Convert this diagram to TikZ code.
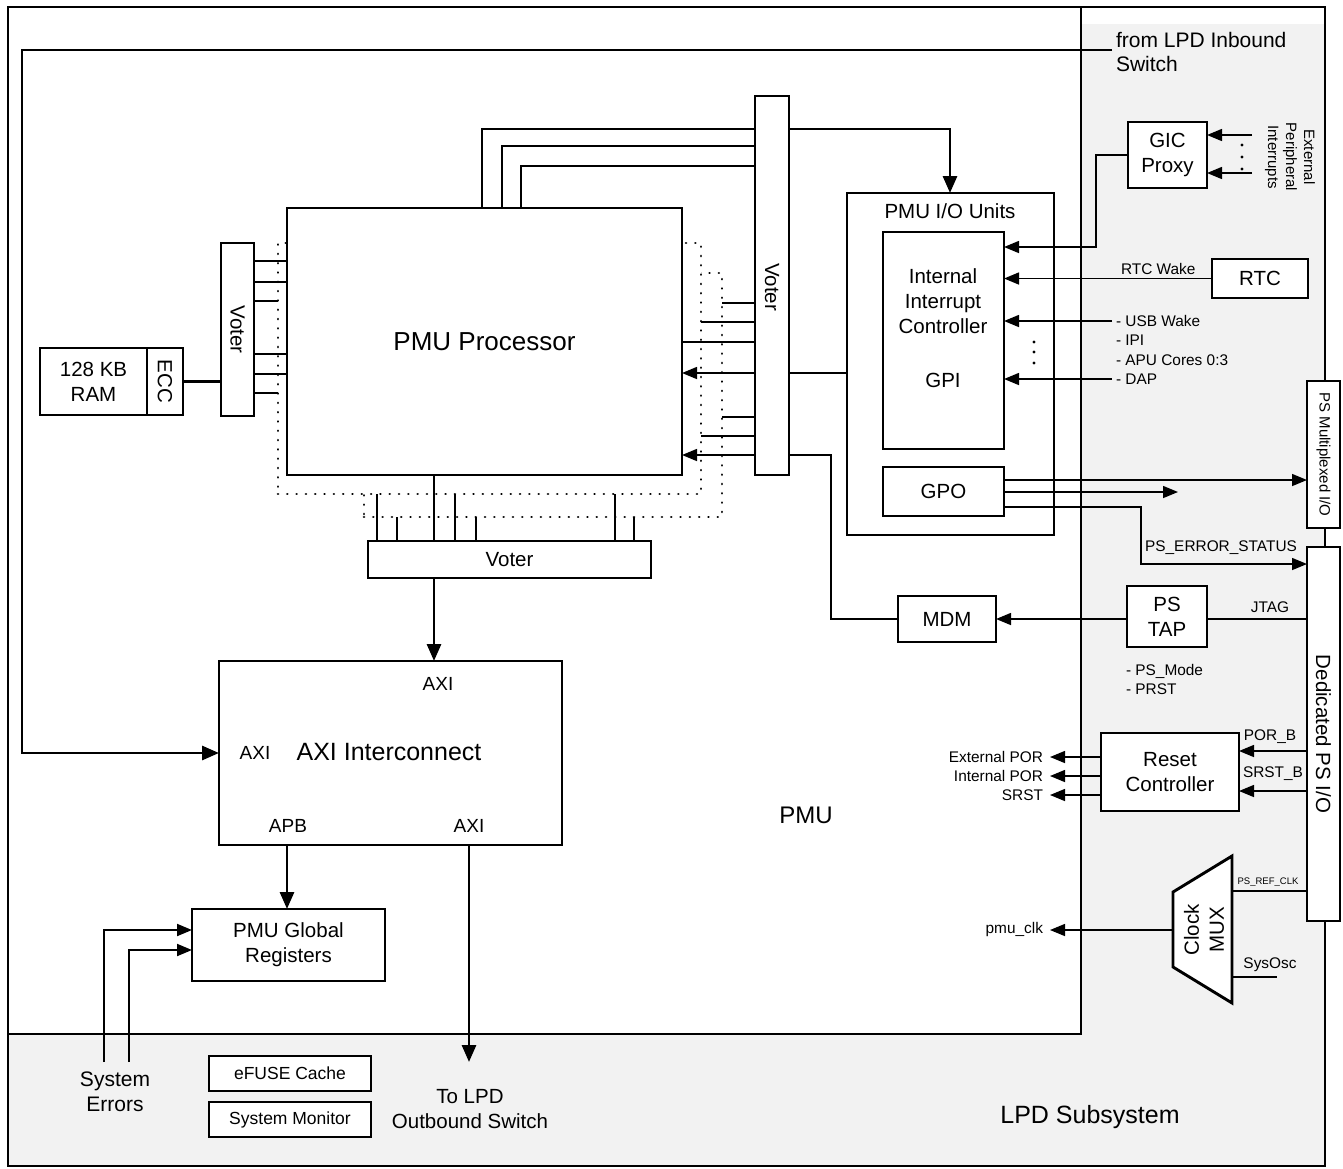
\documentclass[tikz,border=0pt]{standalone}
\usepackage{fontspec}
\setmainfont{Liberation Sans}
\usetikzlibrary{arrows.meta,calc}
\definecolor{lpdgray}{HTML}{F2F2F2}
\begin{document}
\begin{tikzpicture}[x=1pt,y=-1pt,
  every node/.style={inner sep=0pt, outer sep=0pt},
  box/.style={draw, line width=2.9pt, fill=white},
  dotbox/.style={draw, line width=2.7pt, line cap=round, dash pattern=on 0.01pt off 9.3pt, fill=white},
  thk/.style={line width=2.9pt},
  thn/.style={line width=1.5pt},
  med/.style={line width=1.9pt},
  arrT/.style={-{Triangle[length=17pt,width=14pt]}},
  arrt/.style={-{Triangle[length=15pt,width=12pt]}},
  fXL/.style={font=\fontsize{26}{30}\selectfont},
  fL/.style={font=\fontsize{25}{30}\selectfont},
  fM/.style={font=\fontsize{20.5}{25}\selectfont, align=center},
  fA/.style={font=\fontsize{19}{23}\selectfont},
  fB/.style={font=\fontsize{17.5}{21}\selectfont},
  fS/.style={font=\fontsize{15.4}{19.3}\selectfont},
  fT/.style={font=\fontsize{9.5}{11}\selectfont},
]
\useasboundingbox (0,0) rectangle (1343,1168);

% frames
\fill[lpdgray] (8,24) rectangle (1325,1166);
\draw[line width=2.9pt, fill=white] (8,7) rectangle (1081,1034);
\draw[line width=2.9pt] (8,7) rectangle (1325,1166);

% processor stack
\node[dotbox, minimum width=358pt, minimum height=244pt] (cpu2) at (543,395) {};
\node[dotbox, minimum width=423pt, minimum height=251pt] (cpu1) at (489.5,368.5) {};
\node[box, minimum width=395pt, minimum height=267pt, fXL] (proc) at (484.5,341.5) {PMU Processor};

% voters
\node[box, minimum width=33pt, minimum height=173pt] (lvoter) at (237.5,329.5) {};
\node[fM, rotate=-90] (lvotert) at (lvoter) {Voter};
\node[box, minimum width=34pt, minimum height=379pt] (rvoter) at (772,285.5) {};
\node[fM, rotate=-90] (rvotert) at (772,287) {Voter};
\node[box, minimum width=283pt, minimum height=37pt, fM] (bvoter) at (509.5,559.5) {Voter};

% RAM
\node[box, minimum width=107pt, minimum height=67pt, fM] (ram) at (93.5,381.5) {128 KB\\RAM};
\node[box, minimum width=36pt, minimum height=67pt] (ecc) at (165,381.5) {};
\node[fM, rotate=-90] (ecct) at (ecc) {ECC};

% AXI interconnect
\node[box, minimum width=343pt, minimum height=184pt] (axi) at (390.5,753) {};
\node[fL] (axit) at (389,752) {AXI Interconnect};
\node[fA] (axitop) at (438,684) {AXI};
\node[fA] (axileft) at (255,753) {AXI};
\node[fA] (apb) at (288,826) {APB};
\node[fA] (axibot) at (469,826) {AXI};

% global registers etc.
\node[box, minimum width=193pt, minimum height=72pt, fM] (glob) at (288.5,945) {PMU Global\\Registers};
\node[box, minimum width=162pt, minimum height=35pt, fB] (efuse) at (290,1073.5) {eFUSE Cache};
\node[box, minimum width=162pt, minimum height=35pt, fB] (sysmon) at (290,1119.5) {System Monitor};

% PMU I/O units
\node[box, minimum width=207pt, minimum height=342pt] (io) at (950.5,364) {};
\node[fM] (iot) at (950,211) {PMU I/O Units};
\node[box, minimum width=121pt, minimum height=217pt] (iic) at (943.5,340.5) {};
\node[fM] (iict) at (943,301) {Internal\\Interrupt\\Controller};
\node[fM] (gpit) at (943,380) {GPI};
\node[box, minimum width=121pt, minimum height=49pt, fM] (gpo) at (943.5,491.5) {GPO};

% right side blocks
\node[box, minimum width=79pt, minimum height=66pt, fM] (gic) at (1167.5,155) {GIC\\Proxy};
\node[box, minimum width=96pt, minimum height=39pt, fM] (rtc) at (1260,278.5) {RTC};
\node[box, minimum width=98pt, minimum height=46pt, fM] (mdm) at (947,619) {MDM};
\node[box, minimum width=80pt, minimum height=61pt, fM] (pstap) at (1167,616.5) {PS\\TAP};
\node[box, minimum width=138pt, minimum height=78pt, fM] (reset) at (1170,772) {Reset\\Controller};
\node[box, minimum width=33pt, minimum height=147pt] (psmio) at (1323.5,454.5) {};
\node[font=\fontsize{15}{18}\selectfont, rotate=-90] (psmiot) at (psmio) {PS Multiplexed I/O};
\node[box, minimum width=33pt, minimum height=374pt] (dedio) at (1323.5,734) {};
\node[fM, rotate=-90] (dediot) at (dedio) {Dedicated PS I/O};

% clock mux
\coordinate (mxa) at (1173,892);
\coordinate (mxb) at (1232,856);
\coordinate (mxc) at (1232,1003);
\coordinate (mxd) at (1173,967);
\draw[line width=2.9pt, fill=white, line join=miter] (mxa) -- (mxb) -- (mxc) -- (mxd) -- cycle;
\node[fM, rotate=90] (muxt) at (1204,930) {Clock\\MUX};
\coordinate (mref) at (1232,891);
\coordinate (msys) at (1232,977);
\coordinate (mout) at (1173,930);

% ---------- connectors ----------
% processor top buses
\draw[thk] (proc.north -| 482,0) |- (rvoter.west |- 0,129);
\draw[thk] (proc.north -| 502,0) |- (rvoter.west |- 0,146);
\draw[thk] (proc.north -| 521,0) |- (rvoter.west |- 0,166);
\draw[thk,arrT] (rvoter.east |- 0,129) -| (io.north -| 950,0);

% right voter
\draw[thn] (rvoter.west |- 0,303) -- (cpu2.east |- 0,303);
\draw[thn] (rvoter.west |- 0,322) -- (cpu1.east |- 0,322);
\draw[thn] (rvoter.west |- 0,342) -- (proc.east |- 0,342);
\draw[thn,arrt] (rvoter.west |- 0,373) -- (proc.east |- 0,373);
\draw[thn] (io.west |- 0,373) -- (rvoter.east |- 0,373);
\draw[thn] (rvoter.west |- 0,417) -- (cpu2.east |- 0,417);
\draw[thn] (rvoter.west |- 0,436) -- (cpu1.east |- 0,436);
\draw[thn,arrt] (rvoter.west |- 0,455) -- (proc.east |- 0,455);
\draw[thn] (mdm.west) -| (831,455) -- (rvoter.east |- 0,455);

% left voter
\foreach \yy in {261,282,354,374} \draw[thk] (lvoter.east |- 0,\yy) -- (proc.west |- 0,\yy);
\foreach \yy in {301,393} \draw[thk] (lvoter.east |- 0,\yy) -- (cpu1.west |- 0,\yy);
\draw[thk] (ecc.east) -- (lvoter.west |- ecc.east);

% bottom voter
\foreach \xx in {377,455,615} \draw[thk] (bvoter.north -| \xx,0) -- (cpu1.south -| \xx,0);
\foreach \xx in {397,476,634} \draw[thk] (bvoter.north -| \xx,0) -- (cpu2.south -| \xx,0);
\draw[thk] (bvoter.north -| 434,0) -- (proc.south -| 434,0);
\draw[thk,arrT] (bvoter.south -| 434,0) -- (axi.north -| 434,0);

% inbound switch
\coordinate (inb) at (1112,50);
\coordinate (inbc) at (22,50);
\draw[thk,arrT] (inb) -- (inbc) |- (axi.west);
\node[font=\fontsize{21}{24}\selectfont, anchor=west, align=left] (inbt) at (1116,52) {from LPD Inbound\\Switch};

% AXI outputs
\draw[thk,arrT] (axi.south -| 287,0) -- (glob.north -| 287,0);
\coordinate (outb) at (469,1062);
\draw[thk,arrT] (axi.south -| 469,0) -- (outb);
\node[fM] (outbt) at (470,1109.5) {To LPD\\Outbound Switch};

% system errors
\coordinate (se1) at (104,1062);
\coordinate (se2) at (129,1062);
\draw[med,arrt] (se1) |- (glob.west |- 0,930);
\draw[med,arrt] (se2) |- (glob.west |- 0,950);
\node[font=\fontsize{21}{25}\selectfont, align=center] (set) at (115,1092) {System\\Errors};

% GIC and interrupts
\draw[thn,arrt] (gic.west) -| (1096,247) -- (iic.east |- 0,247);
\coordinate (ep1) at (1252,135);
\coordinate (ep2) at (1252,173);
\draw[thn,arrt] (ep1) -- (gic.east |- ep1);
\draw[thn,arrt] (ep2) -- (gic.east |- ep2);
\foreach \yy in {145,157,169} \fill (1242,\yy) circle (1.7pt);
\node[font=\fontsize{15}{18}\selectfont, rotate=-90, align=center] (ept) at (1290,157) {External\\Peripheral\\Interrupts};

\draw[thn,arrt] (rtc.west) -- (iic.east |- rtc.west);
\node[fS, anchor=west] (rtcw) at (1121,269) {RTC Wake};
\coordinate (usb) at (1112,321);
\coordinate (dap) at (1112,379);
\draw[thn,arrt] (usb) -- (iic.east |- usb);
\draw[thn,arrt] (dap) -- (iic.east |- dap);
\node[fS, anchor=west, align=left] (wakes) at (1116,350) {- USB Wake\\- IPI\\- APU Cores 0:3\\- DAP};
\foreach \yy in {342,352,363} \fill (1034,\yy) circle (1.7pt);

% GPO
\draw[thn,arrt] (gpo.east |- 0,480) -- (psmio.west |- 0,480);
\coordinate (gpoout) at (1178,492);
\draw[thn,arrt] (gpo.east |- 0,492) -- (gpoout);
\draw[thn,arrt] (gpo.east |- 0,507) -| (1141,564) -- (dedio.west |- 0,564);
\node[fS] (errst) at (1221,548) {PS\_ERROR\_STATUS};

% JTAG / MDM
\draw[thn] (dedio.west |- 0,619) -- (pstap.east |- 0,619);
\draw[thn,arrt] (pstap.west |- mdm.east) -- (mdm.east);
\node[fS] (jtag) at (1270,607) {JTAG};
\node[fS, anchor=west, align=left] (psmode) at (1126,679.5) {- PS\_Mode\\- PRST};

% reset
\draw[thn,arrt] (dedio.west |- 0,751) -- (reset.east |- 0,751);
\draw[thn,arrt] (dedio.west |- 0,791) -- (reset.east |- 0,791);
\node[fS] (porb) at (1270,737) {POR\_B};
\node[fS] (srstb) at (1273,774) {SRST\_B};
\coordinate (epor) at (1050,757);
\coordinate (ipor) at (1050,776);
\coordinate (srst) at (1050,795);
\draw[thn,arrt] (reset.west |- epor) -- (epor);
\draw[thn,arrt] (reset.west |- ipor) -- (ipor);
\draw[thn,arrt] (reset.west |- srst) -- (srst);
\node[fS, anchor=east] (eport) at (1043,757) {External POR};
\node[fS, anchor=east] (iport) at (1043,776) {Internal POR};
\node[fS, anchor=east] (srstt) at (1043,795) {SRST};

% clock
\draw[thn] (dedio.west |- mref) -- (mref);
\node[fT] (refclk) at (1268,882) {PS\_REF\_CLK};
\coordinate (sysosc) at (1277,977);
\draw[thn] (msys) -- (sysosc);
\node[fS] (sysosct) at (1270,965) {SysOsc};
\coordinate (pclk) at (1050,930);
\draw[thn,arrt] (mout) -- (pclk);
\node[fS, anchor=east] (pclkt) at (1043,930) {pmu\_clk};

% region labels
\node[font=\fontsize{24}{28}\selectfont] (pmut) at (806,815) {PMU};
\node[fL] (lpdt) at (1090,1117) {LPD Subsystem};
\end{tikzpicture}
\end{document}
